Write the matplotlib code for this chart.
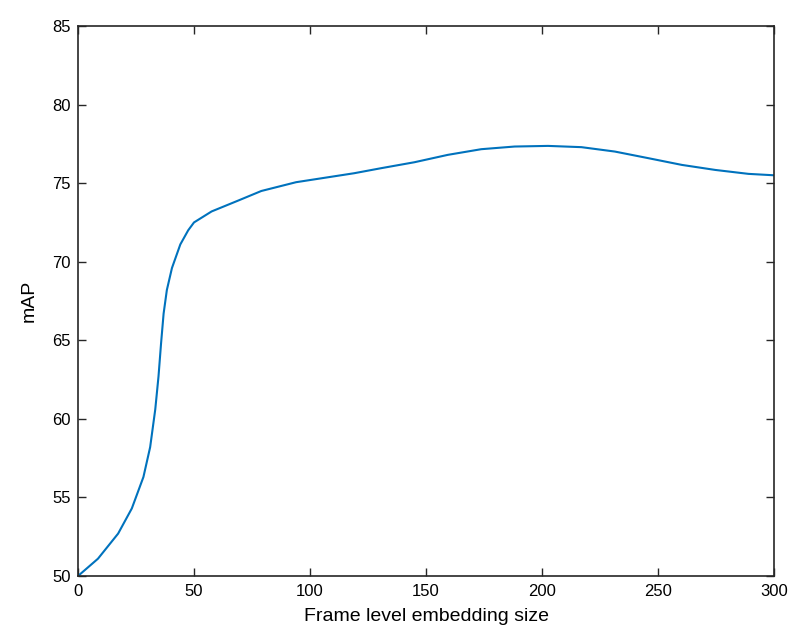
import matplotlib
matplotlib.use('Agg')
import matplotlib.pyplot as plt

# values
emb_size = [0, 8.6, 17.3, 23.2, 28.2, 31.1, 33.3, 34.7, 35.8, 36.9, 38.3, 40.5, 44.1, 47.5,
            50, 57.6, 69.2, 79, 94, 119, 130.6, 145, 159.4, 173.8, 188.2, 202.6,
            217, 231.4, 245.8, 260.3, 274.7, 289, 300]
map_vals = [50, 51.1, 52.7, 54.3, 56.3, 58.2, 60.6, 62.7, 64.8, 66.7, 68.2, 69.6, 71.1, 72.0,
            72.5, 73.2, 73.9, 74.5, 75.06, 75.63, 75.95, 76.33, 76.8, 77.16, 77.33, 77.37,
            77.29, 77.01, 76.59, 76.16, 75.84, 75.59, 75.5]
xticks = [0, 50, 100, 150, 200, 250, 300]
yticks = [50, 55, 60, 65, 70, 75, 80, 85]

plt.rcParams['font.family'] = ['Liberation Sans', 'DejaVu Sans']
edge = '#262626'

fig = plt.figure(figsize=(7.89, 6.42), dpi=100)
ax = fig.add_axes([78/789, 66/642, (774-78)/789, (576-26)/642])
ax.plot(emb_size, map_vals, color='#0072BD', lw=1.5)

ax.set_xlim(0, 300)
ax.set_ylim(50, 85)
ax.set_xticks(xticks)
ax.set_yticks(yticks)
ax.tick_params(direction='in', length=6, width=1, colors=edge, labelcolor='black',
               labelsize=12, top=True, right=True)
ax.tick_params(axis='x', pad=6)
ax.tick_params(axis='y', pad=5)
for s in ax.spines.values():
    s.set_color(edge)
    s.set_linewidth(1.2)

ax.set_xlabel('Frame level embedding size', fontsize=14, labelpad=6)
ax.set_ylabel('mAP', fontsize=14, labelpad=11)

fig.savefig('out.png', dpi=100)
